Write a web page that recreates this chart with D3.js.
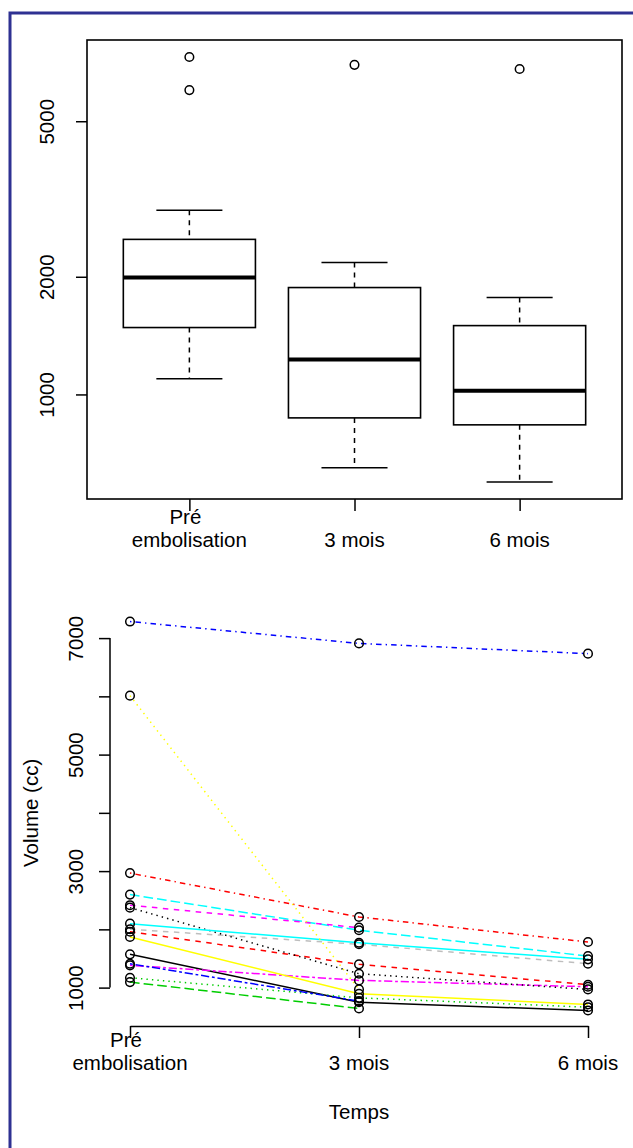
<!DOCTYPE html>
<html>
<head>
<meta charset="utf-8">
<script src="https://cdn.jsdelivr.net/npm/d3@7"></script>
<style>
  body { margin: 0; background: #fff; }
  svg { display: block; }
  text { font-family: "Liberation Sans", Arial, sans-serif; font-size: 20.5px; fill: #000; }
</style>
</head>
<body>
<div id="container"></div>
<script>
const groups = ["Pré\nembolisation", "3 mois", "6 mois"];

// top chart: boxplot statistics (log axis)
const boxLow = [1097, 649, 597];
const boxQ1 = [1483, 871, 836];
const boxMedian = [1992, 1228, 1022];
const boxQ3 = [2493, 1877, 1500];
const boxHigh = [2958, 2176, 1770];
const boxOutliers = [[7300, 6006], [6970], [6801]];
const topTicks = [1000, 2000, 5000];

// bottom chart: one entry per patient (null = no 6 month value)
const patientColors = ["#000000", "#FF0000", "#00CD00", "#0000FF", "#00FFFF", "#FF00FF", "#FFFF00", "#BEBEBE",
  "#000000", "#FF0000", "#00CD00", "#0000FF", "#00FFFF", "#FF00FF", "#FFFF00"];
const patientLty = ["solid", "dashed", "dotted", "dotdash", "longdash", "twodash", "solid", "dashed",
  "dotted", "dotdash", "longdash", "twodash", "solid", "dashed", "dotted"];
const preValues = [1571, 1960, 1169, 7284, 2597, 1382, 1869, 2002, 2373, 2966, 1095, 1410, 2098, 2415, 6012];
const m3Values = [750, 1399, 824, 6909, 1985, 1124, 893, 1744, 1238, 2213, 642, 768, 1771, 2029, 969];
const m6Values = [608, 1050, 664, 6733, 1542, 1015, 711, 1410, 969, 1783, null, null, 1485, null, null];
const bottomTicks = [1000, 2000, 3000, 4000, 5000, 6000, 7000];
const bottomLabelTicks = [1000, 3000, 5000, 7000];

const dashes = {
  solid: null,
  dashed: "5.5,5.5",
  dotted: "1.4,4.1",
  dotdash: "1.4,4.1,5.5,4.1",
  longdash: "9.6,4.1",
  twodash: "2.8,2.8,8.2,2.8"
};

const svg = d3.select("#container").append("svg")
  .attr("width", 633).attr("height", 1148);

// outer frame
svg.append("rect")
  .attr("x", 10).attr("y", 13).attr("width", 640).attr("height", 1150)
  .attr("fill", "none").attr("stroke", "#2e3192").attr("stroke-width", 3);

// ---------- top: boxplot ----------
const boxArea = { left: 87, right: 622, top: 40, bottom: 499 };
const xTop = d3.scalePoint().domain(groups).range([boxArea.left, boxArea.right]).padding(0.62);
const lo = d3.min(boxLow), hi = d3.max(boxOutliers.flat());
const lpad = (Math.log10(hi) - Math.log10(lo)) * 0.04;
const yTop = d3.scaleLog()
  .domain([Math.pow(10, Math.log10(lo) - lpad), Math.pow(10, Math.log10(hi) + lpad)])
  .range([boxArea.bottom, boxArea.top]);
const boxW = xTop.step() * 0.8;

const boxes = svg.append("g").selectAll("g").data(groups).enter().append("g");
boxes.append("line")
  .attr("x1", d => xTop(d)).attr("x2", d => xTop(d))
  .attr("y1", (d, i) => yTop(boxHigh[i])).attr("y2", (d, i) => yTop(boxQ3[i]))
  .attr("stroke", "#000").attr("stroke-width", 1.5).attr("stroke-dasharray", "5,5");
boxes.append("line")
  .attr("x1", d => xTop(d)).attr("x2", d => xTop(d))
  .attr("y1", (d, i) => yTop(boxQ1[i])).attr("y2", (d, i) => yTop(boxLow[i]))
  .attr("stroke", "#000").attr("stroke-width", 1.5).attr("stroke-dasharray", "5,5");
[boxHigh, boxLow].forEach(arr => {
  boxes.append("line")
    .attr("x1", d => xTop(d) - boxW / 4).attr("x2", d => xTop(d) + boxW / 4)
    .attr("y1", (d, i) => yTop(arr[i])).attr("y2", (d, i) => yTop(arr[i]))
    .attr("stroke", "#000").attr("stroke-width", 1.5);
});
boxes.append("rect")
  .attr("x", d => xTop(d) - boxW / 2).attr("width", boxW)
  .attr("y", (d, i) => yTop(boxQ3[i]))
  .attr("height", (d, i) => yTop(boxQ1[i]) - yTop(boxQ3[i]))
  .attr("fill", "none").attr("stroke", "#000").attr("stroke-width", 1.6);
boxes.append("line")
  .attr("x1", d => xTop(d) - boxW / 2).attr("x2", d => xTop(d) + boxW / 2)
  .attr("y1", (d, i) => yTop(boxMedian[i])).attr("y2", (d, i) => yTop(boxMedian[i]))
  .attr("stroke", "#000").attr("stroke-width", 4);
boxes.selectAll("circle").data((d, i) => boxOutliers[i].map(v => ({ g: d, v })))
  .enter().append("circle")
  .attr("cx", d => xTop(d.g)).attr("cy", d => yTop(d.v)).attr("r", 4.3)
  .attr("fill", "none").attr("stroke", "#000").attr("stroke-width", 1.5);

svg.append("rect")
  .attr("x", boxArea.left).attr("y", boxArea.top)
  .attr("width", boxArea.right - boxArea.left).attr("height", boxArea.bottom - boxArea.top)
  .attr("fill", "none").attr("stroke", "#000").attr("stroke-width", 1.6);

const yAxisTop = svg.append("g")
  .attr("transform", `translate(${boxArea.left},0)`)
  .call(d3.axisLeft(yTop).tickValues(topTicks).tickSize(11).tickFormat(d3.format("d")));
yAxisTop.select(".domain").remove();
yAxisTop.selectAll("line").attr("stroke-width", 1.5);
yAxisTop.selectAll("text")
  .attr("x", null).attr("dy", null)
  .attr("transform", "translate(-33,0) rotate(-90)")
  .attr("text-anchor", "middle")
  .style("font-size", "20.5px").style("font-family", "Liberation Sans, Arial, sans-serif");

const xAxisTop = svg.append("g")
  .attr("transform", `translate(0,${boxArea.bottom})`)
  .call(d3.axisBottom(xTop).tickSize(12).tickFormat(""));
xAxisTop.select(".domain").remove();
xAxisTop.selectAll("line").attr("stroke-width", 1.5);

function groupLabels(xs, yLast) {
  groups.forEach(g => {
    const lines = g.split("\n");
    lines.forEach((l, k) => {
      svg.append("text")
        .attr("x", xs(g) - (lines.length > 1 && k === 0 ? 4 : 0))
        .attr("y", yLast - (lines.length - 1 - k) * 23)
        .attr("text-anchor", "middle")
        .text(l);
    });
  });
}
groupLabels(xTop, 547);

// ---------- bottom: individual trajectories ----------
const bot = { left: 111, right: 606, top: 606, bottom: 1026 };
const xBot = d3.scalePoint().domain(groups).range([130, 588]);
const allVals = preValues.concat(m3Values, m6Values).filter(v => v != null);
const vmin = d3.min(allVals), vmax = d3.max(allVals);
const vpad = (vmax - vmin) * 0.04;
const yBot = d3.scaleLinear().domain([vmin - vpad, vmax + vpad]).range([bot.bottom, bot.top]);

const patients = preValues.map((v, i) => ({
  color: patientColors[i],
  lty: patientLty[i],
  values: [v, m3Values[i], m6Values[i]]
}));

const line = d3.line()
  .defined(d => d.v != null)
  .x(d => xBot(d.g)).y(d => yBot(d.v));

svg.append("g").selectAll("path").data(patients).enter().append("path")
  .attr("d", p => line(p.values.map((v, k) => ({ g: groups[k], v }))))
  .attr("fill", "none")
  .attr("stroke", p => p.color)
  .attr("stroke-width", 1.5)
  .attr("stroke-dasharray", p => dashes[p.lty]);

const pts = [];
patients.forEach(p => p.values.forEach((v, k) => { if (v != null) pts.push({ g: groups[k], v }); }));
svg.append("g").selectAll("circle").data(pts).enter().append("circle")
  .attr("cx", d => xBot(d.g)).attr("cy", d => yBot(d.v)).attr("r", 4.3)
  .attr("fill", "none").attr("stroke", "#000").attr("stroke-width", 1.5);

const yAxisBot = svg.append("g")
  .attr("transform", `translate(${bot.left - 1},0)`)
  .call(d3.axisLeft(yBot).tickValues(bottomTicks).tickSize(11).tickSizeOuter(0)
    .tickFormat(d => bottomLabelTicks.includes(d) ? d : ""));
yAxisBot.select(".domain")
  .attr("d", `M0,${yBot(bottomTicks[0])}V${yBot(bottomTicks[bottomTicks.length - 1])}`)
  .attr("stroke-width", 1.5);
yAxisBot.selectAll("line").attr("stroke-width", 1.5);
yAxisBot.selectAll("text")
  .attr("x", null).attr("dy", null)
  .attr("transform", "translate(-27,0) rotate(-90)")
  .attr("text-anchor", "middle")
  .style("font-size", "20.5px").style("font-family", "Liberation Sans, Arial, sans-serif");

const xAxisBot = svg.append("g")
  .attr("transform", `translate(0,${bot.bottom})`)
  .call(d3.axisBottom(xBot).tickSize(12).tickSizeOuter(0).tickFormat(""));
xAxisBot.select(".domain").attr("stroke-width", 1.5);
xAxisBot.selectAll("line").attr("stroke-width", 1.5);
groupLabels(xBot, 1070);

svg.append("text")
  .attr("transform", `translate(38,${(yBot(1000) + yBot(7000)) / 2}) rotate(-90)`)
  .attr("text-anchor", "middle")
  .text("Volume (cc)");
svg.append("text")
  .attr("x", 359).attr("y", 1119)
  .attr("text-anchor", "middle")
  .text("Temps");
</script>
</body>
</html>
